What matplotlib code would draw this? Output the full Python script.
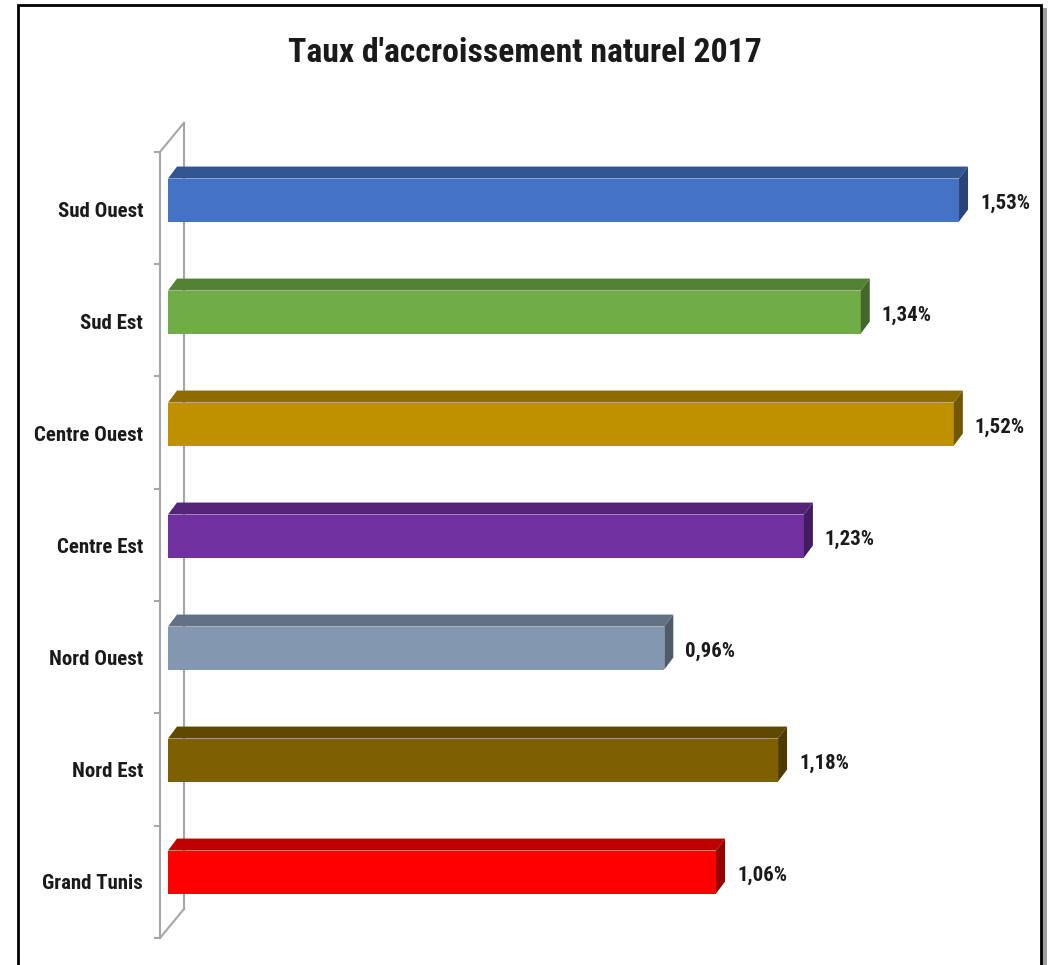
import numpy as np
import matplotlib
matplotlib.use('Agg')
from matplotlib import pyplot as plt
from matplotlib.patches import Polygon, Rectangle
import matplotlib.colors as mcolors

regions = ['Grand Tunis', 'Nord Est', 'Nord Ouest', 'Centre Est', 'Centre Ouest', 'Sud Est', 'Sud Ouest']
taux = [1.06, 1.18, 0.96, 1.23, 1.52, 1.34, 1.53]
couleurs = ['#FF0000', '#7F6000', '#8497B0', '#7030A0', '#BF9000', '#70AD47', '#4472C4']
etiquettes = ['1,06%', '1,18%', '0,96%', '1,23%', '1,52%', '1,34%', '1,53%']

plt.rcParams['font.family'] = ['Liberation Sans Narrow', 'Roboto Condensed', 'DejaVu Sans Condensed',
                               'Open Sans Condensed', 'Lato', 'DejaVu Sans']

W, H = 1048, 965
fig = plt.figure(figsize=(W / 100, H / 100), dpi=100)

# cadre noir + ombre
fig.patches.append(Rectangle((1042 / W, 0), 5 / W, 1 - 8 / H, transform=fig.transFigure,
                             facecolor='#A0A0A0', edgecolor='none', zorder=-3))
fig.patches.append(Rectangle((18 / W, -0.05), 1023 / W, 1.05 - 5 / H, transform=fig.transFigure,
                             facecolor='white', edgecolor='black', linewidth=2, zorder=-2))

ax = fig.add_axes([150 / W, 15 / H, 890 / W, 840 / H])
ax.patch.set_alpha(0)
px = 517.0   # pixels par unite
py = 112.0   # pixels par categorie
ax.set_xlim(-18 / px, 872 / px)
ax.set_ylim(-0.696, 6.804)
ax.axis('off')

y = np.arange(len(regions))
h = 43 / py
dx, dy = 9 / px, 12 / py

# murs
wx, wdx, wdy = -8 / px, 24 / px, 0.26
yb, yt = -0.589, 6.43
g = '#A6A6A6'
ax.plot([wx, wx], [yb, yt], color=g, lw=1.5)
ax.plot([wx + wdx, wx + wdx], [yb + wdy, yt + wdy], color=g, lw=1.5)
ax.plot([wx, wx + wdx], [yb, yb + wdy], color=g, lw=1.5)
ax.plot([wx, wx + wdx], [yt, yt + wdy], color=g, lw=1.5)
for k in range(len(regions) + 1):
    yk = yb + k * (yt - yb) / len(regions)
    ax.plot([wx - 5 / px, wx], [yk, yk], color=g, lw=1.5)

ax.barh(y, taux, height=h, color=couleurs, zorder=3)
for yi, v, c, lab in zip(y, taux, couleurs, etiquettes):
    rgb = np.array(mcolors.to_rgb(c))
    top = Polygon([(0, yi + h / 2), (v, yi + h / 2), (v + dx, yi + h / 2 + dy), (dx, yi + h / 2 + dy)],
                  closed=True, facecolor=rgb * 0.75, edgecolor='none', zorder=3)
    side = Polygon([(v, yi - h / 2), (v + dx, yi - h / 2 + dy), (v + dx, yi + h / 2 + dy), (v, yi + h / 2)],
                   closed=True, facecolor=rgb * 0.6, edgecolor='none', zorder=3)
    ax.add_patch(top)
    ax.add_patch(side)
    ax.text(v + dx + 12 / px, yi - 0.03, lab, ha='left', va='center',
            fontsize=15, fontweight='bold', color='#1a1a1a')

for yi, r in zip(y, regions):
    ax.text(-25 / px, yi - 0.1, r, ha='right', va='center', fontsize=15,
            fontweight='bold', color='#1a1a1a', clip_on=False)

fig.text(525 / W, 1 - 53 / H, "Taux d'accroissement naturel 2017", ha='center', va='center',
         fontsize=24.3, fontweight='bold', color='#1a1a1a')

fig.savefig('out.png', dpi=100)
